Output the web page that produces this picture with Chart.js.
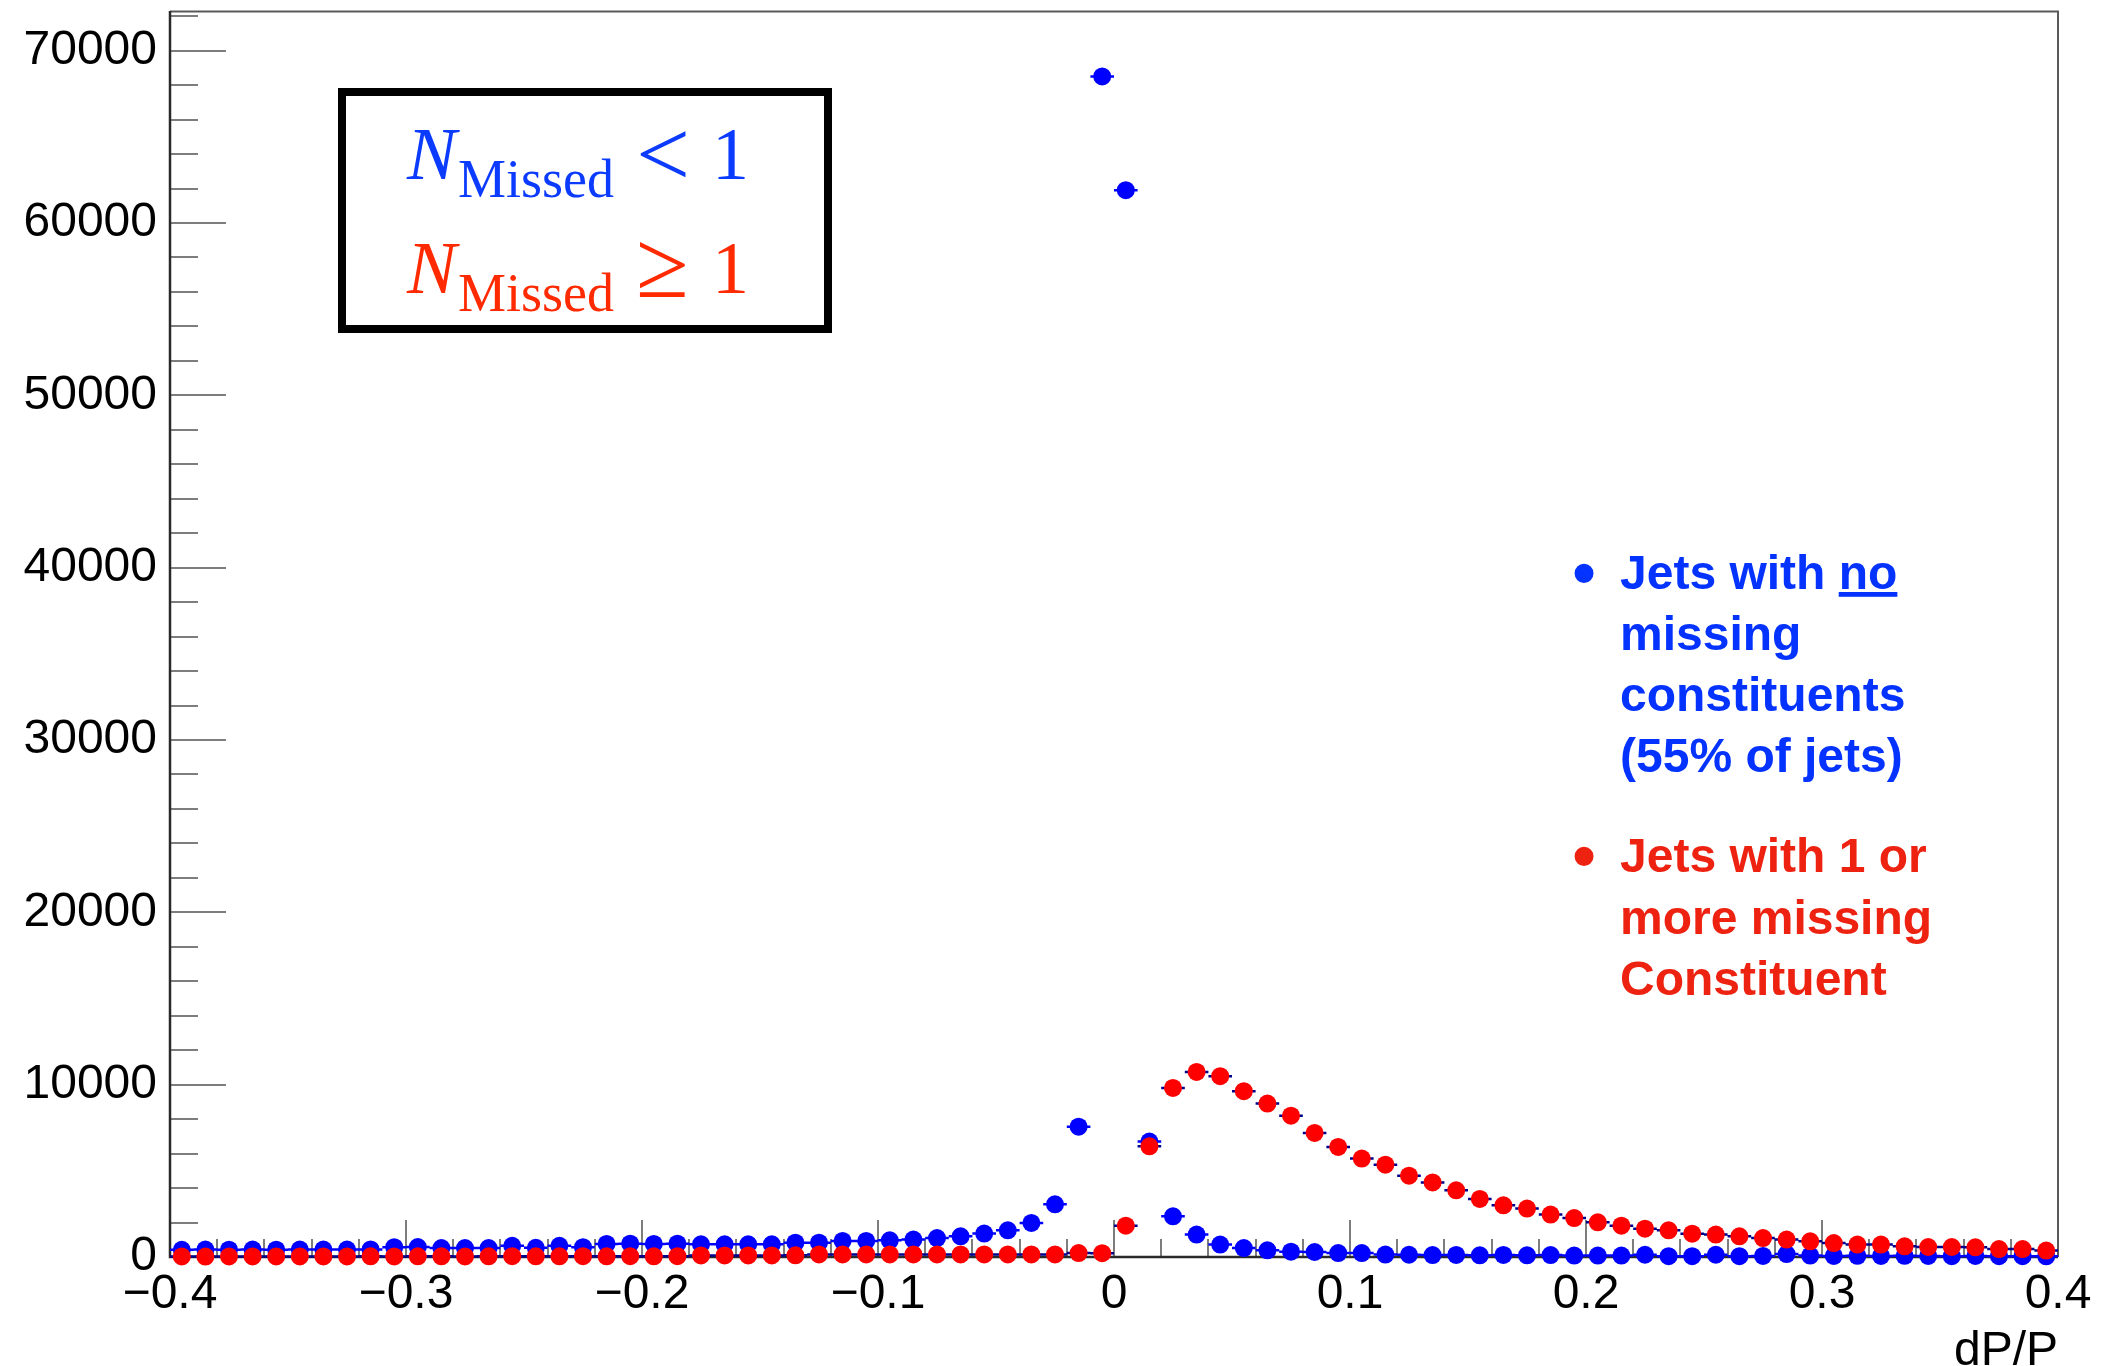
<!DOCTYPE html>
<html>
<head>
<meta charset="utf-8">
<title>dP/P distribution</title>
<script src="https://cdn.jsdelivr.net/npm/chart.js@4/dist/chart.umd.min.js"></script>
<style>
  html, body { margin: 0; padding: 0; background: #ffffff; }
  #wrap { position: relative; width: 2102px; height: 1366px; }
  #plot { position: absolute; left: 0; top: 0; }
  #notes { position: absolute; left: 0; top: 0; pointer-events: none; }
</style>
</head>
<body>
<div id="wrap">
  <canvas id="plot" width="2102" height="1366"></canvas>
  <svg id="notes" width="2102" height="1366" xmlns="http://www.w3.org/2000/svg">
    <!-- selection box -->
    <rect x="342" y="92" width="486" height="237" fill="none" stroke="#000" stroke-width="8"/>
    <text font-family="'Liberation Serif', 'Times New Roman', serif" fill="#0b3bff">
      <tspan x="407" y="179" font-style="italic" font-size="74">N</tspan>
      <tspan x="458" y="197" font-size="54">Missed</tspan>
      <tspan x="636" y="186" font-size="96">&lt;</tspan>
      <tspan x="712" y="179" font-size="74">1</tspan>
    </text>
    <text font-family="'Liberation Serif', 'Times New Roman', serif" fill="#ff2a00">
      <tspan x="407" y="293" font-style="italic" font-size="74">N</tspan>
      <tspan x="458" y="311" font-size="54">Missed</tspan>
      <tspan x="636" y="297" font-size="96">≥</tspan>
      <tspan x="712" y="293" font-size="74">1</tspan>
    </text>
    <!-- series descriptions -->
    <g font-family="'Liberation Sans', Arial, sans-serif" font-weight="bold" font-size="48" fill="#0433ff">
      <text x="1584" y="595" font-size="66" text-anchor="middle">•</text>
      <text x="1620" y="589">Jets with <tspan text-decoration="underline">no</tspan></text>
      <text x="1620" y="650">missing</text>
      <text x="1620" y="711">constituents</text>
      <text x="1620" y="772">(55% of jets)</text>
    </g>
    <g font-family="'Liberation Sans', Arial, sans-serif" font-weight="bold" font-size="48" fill="#ee2211">
      <text x="1584" y="878" font-size="66" text-anchor="middle">•</text>
      <text x="1620" y="872">Jets with 1 or</text>
      <text x="1620" y="934">more missing</text>
      <text x="1620" y="995">Constituent</text>
    </g>
  </svg>
</div>
<script>
// Histogram binning of dP/P: 80 bins of width 0.01 from -0.4 to 0.4
const BIN_WIDTH = 0.01;
const binCenters = Array.from({ length: 80 }, (_, i) => +(-0.395 + BIN_WIDTH * i).toFixed(3));

// Jets with no missing constituents (N_Missed < 1), entries per bin
const noMissing = [
  420, 430, 425, 430, 425, 430, 435, 430, 440,
  570, 580, 520, 520, 520, 650, 530, 650, 570, 760, 770, 760, 770,
  740, 740, 740, 740, 830, 830, 930, 930, 970, 1010, 1100, 1200, 1360, 1550, 1980, 3060, 7560, 68500,
  61900, 6700, 2360, 1300, 720, 520, 390, 310, 290, 230, 230, 140,
  130, 110, 120, 100, 120, 100, 110, 80, 80, 80, 130, 50, 50, 130, 50, 60,
  170, 80, 60, 70, 60, 70, 60, 50, 60, 50, 50, 40
];

// Jets with 1 or more missing constituents (N_Missed >= 1), entries per bin
const withMissing = [
  30, 25, 30, 35, 30, 30, 35, 30, 40, 35, 40,
  40, 35, 40, 45, 40, 40, 45, 40, 45, 40, 45,
  90, 90, 90, 90, 100, 150, 150, 150, 150, 150, 150, 150, 150, 150, 150, 150, 230, 220,
  1820, 6420, 9810, 10740, 10490, 9620, 8900, 8200, 7200, 6390,
  5710, 5360, 4720, 4330, 3870, 3370, 3000, 2810, 2460, 2260,
  2010, 1820, 1640, 1550, 1350, 1300, 1200, 1100, 1010, 910,
  810, 720, 720, 620, 580, 580, 560, 460, 460, 370
];

// Labelled tick values
const xTickValues = [-0.4, -0.3, -0.2, -0.1, 0, 0.1, 0.2, 0.3, 0.4];
const yTickValues = [0, 10000, 20000, 30000, 40000, 50000, 60000, 70000];

// Axis ranges and minor tick spacing
const X_MIN = -0.4, X_MAX = 0.4, X_MINOR = 0.02, X_MINOR_PER_MAJOR = 5;
const Y_MIN = 0, Y_MAX = 72300, Y_MINOR = 2000, Y_MINOR_PER_MAJOR = 5;

const BLUE = '#0000ff', RED = '#ff0000', NAVY = '#00008f';
const FONT = "'Liberation Sans', Arial, Helvetica, sans-serif";

// Horizontal bin-width bars through each bin content
function binBars(values) {
  const pts = [];
  values.forEach((v, i) => {
    const c = binCenters[i];
    pts.push({ x: c - BIN_WIDTH / 2, y: v }, { x: c + BIN_WIDTH / 2, y: v }, { x: c + BIN_WIDTH / 2, y: null });
  });
  return pts;
}
function binPoints(values) {
  return binCenters.map((x, i) => ({ x, y: values[i] }));
}

function formatX(v) {
  if (Math.abs(v) < 1e-9) return '0';
  const s = Math.abs(v).toFixed(1);
  return v < 0 ? '\u2212' + s : s;
}

// Inward tick marks and the plot frame
const frameTicks = {
  id: 'frameTicks',
  beforeDatasetsDraw(chart) {
    const { ctx, chartArea: a, scales: { x, y } } = chart;
    ctx.save();
    ctx.lineWidth = 2;
    ctx.strokeStyle = '#7d7d7d';
    ctx.beginPath();
    const nY = Math.floor((Y_MAX - Y_MIN) / Y_MINOR);
    for (let k = 0; k <= nY; k++) {
      const py = Math.round(y.getPixelForValue(Y_MIN + k * Y_MINOR));
      const len = (k % Y_MINOR_PER_MAJOR === 0) ? 56 : 28;
      ctx.moveTo(a.left, py);
      ctx.lineTo(a.left + len, py);
    }
    const nX = Math.round((X_MAX - X_MIN) / X_MINOR);
    for (let k = 0; k <= nX; k++) {
      const px = Math.round(x.getPixelForValue(X_MIN + k * X_MINOR));
      const len = (k % X_MINOR_PER_MAJOR === 0) ? 37 : 18;
      ctx.moveTo(px, a.bottom);
      ctx.lineTo(px, a.bottom - len);
    }
    ctx.stroke();

    // top and right frame
    ctx.strokeStyle = '#5a5a5a';
    ctx.beginPath();
    ctx.moveTo(a.left, a.top + 0.5);
    ctx.lineTo(a.right, a.top + 0.5);
    ctx.lineTo(a.right, a.bottom);
    ctx.stroke();

    // axis lines
    ctx.strokeStyle = '#2a2a2a';
    ctx.lineWidth = 2.5;
    ctx.beginPath();
    ctx.moveTo(a.left, a.top);
    ctx.lineTo(a.left, a.bottom);
    ctx.lineTo(a.right, a.bottom);
    ctx.stroke();
    ctx.restore();
  }
};

new Chart(document.getElementById('plot'), {
  type: 'scatter',
  data: {
    datasets: [
      { label: 'N_Missed >= 1', data: binPoints(withMissing), showLine: false,
        pointRadius: 9, pointHoverRadius: 9, pointBackgroundColor: RED, pointBorderWidth: 0,
        borderColor: RED, clip: false, order: 0 },
      { label: 'N_Missed >= 1 bins', data: binBars(withMissing), showLine: true, spanGaps: false,
        pointRadius: 0, borderColor: NAVY, borderWidth: 2.5, clip: false, order: 1 },
      { label: 'N_Missed < 1', data: binPoints(noMissing), showLine: false,
        pointRadius: 9, pointHoverRadius: 9, pointBackgroundColor: BLUE, pointBorderWidth: 0,
        borderColor: BLUE, clip: false, order: 2 },
      { label: 'N_Missed < 1 bins', data: binBars(noMissing), showLine: true, spanGaps: false,
        pointRadius: 0, borderColor: BLUE, borderWidth: 2.5, clip: false, order: 3 }
    ]
  },
  options: {
    responsive: false,
    devicePixelRatio: 1,
    animation: false,
    events: [],
    layout: { padding: { left: 0, top: 11, right: 44, bottom: 0 } },
    plugins: { legend: { display: false }, tooltip: { enabled: false } },
    scales: {
      x: {
        type: 'linear', position: 'bottom', min: X_MIN, max: X_MAX, bounds: 'data',
        grid: { display: false, drawTicks: false },
        border: { display: false },
        afterBuildTicks(scale) { scale.ticks = xTickValues.map(v => ({ value: v })); },
        ticks: {
          autoSkip: false, maxRotation: 0,
          padding: 9, color: '#000', font: { family: FONT, size: 48 },
          callback: (v) => formatX(v)
        },
        title: {
          display: true, text: 'dP/P', align: 'end', color: '#000',
          font: { family: FONT, size: 48, lineHeight: 0.6 }, padding: 0
        },
        afterFit(scale) { scale.height = 109; scale.paddingLeft = 0; scale.paddingRight = 0; }
      },
      y: {
        type: 'linear', position: 'left', min: Y_MIN, max: Y_MAX, bounds: 'data',
        grid: { display: false, drawTicks: false },
        border: { display: false },
        afterBuildTicks(scale) { scale.ticks = yTickValues.map(v => ({ value: v })); },
        ticks: {
          autoSkip: false,
          padding: 13, color: '#000', font: { family: FONT, size: 48 },
          callback: (v) => String(v)
        },
        afterFit(scale) { scale.width = 170; scale.paddingTop = 0; scale.paddingBottom = 0; }
      }
    }
  },
  plugins: [frameTicks]
});
</script>
</body>
</html>
